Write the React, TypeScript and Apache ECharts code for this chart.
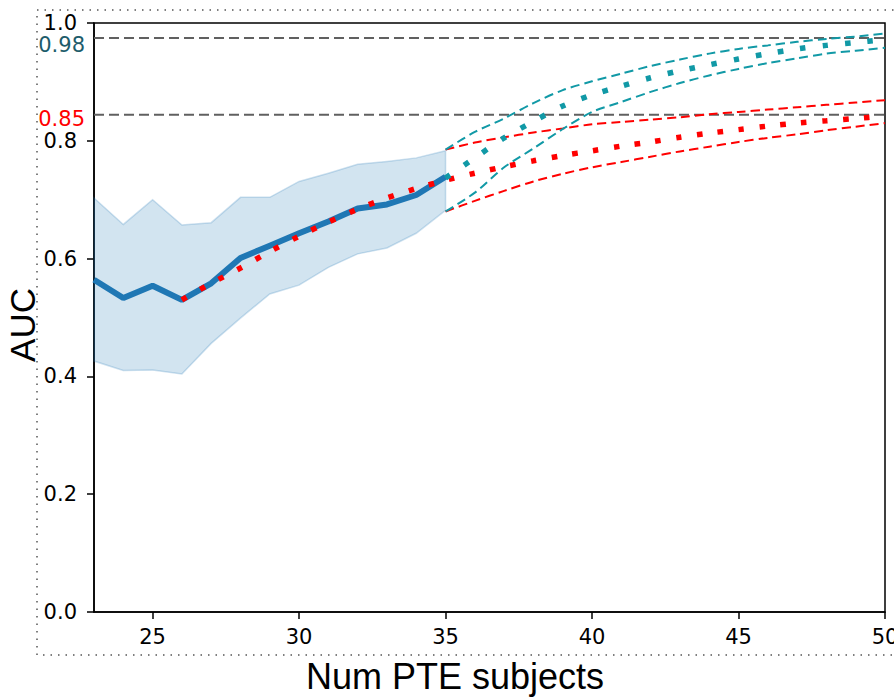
import React, { useEffect, useRef } from "react";
import * as echarts from "echarts";

// ---- data ----
const obsX = [23, 24, 25, 26, 27, 28, 29, 30, 31, 32, 33, 34, 35];
const obsMean = [0.564, 0.533, 0.554, 0.530, 0.558, 0.601, 0.622, 0.643, 0.663, 0.685, 0.692, 0.708, 0.739];
const obsUpper = [0.703, 0.658, 0.700, 0.657, 0.661, 0.704, 0.704, 0.731, 0.745, 0.760, 0.765, 0.771, 0.783];
const obsLower = [0.426, 0.410, 0.411, 0.404, 0.456, 0.499, 0.540, 0.555, 0.585, 0.608, 0.618, 0.643, 0.682];

const redFitX = [26, 27, 28, 29, 30, 31, 32, 33, 34, 35, 36, 37, 38, 39, 40, 41, 42, 43, 44, 45, 46, 47, 48, 49, 50];
const redFit = [0.530, 0.558, 0.584, 0.612, 0.638, 0.662, 0.684, 0.703, 0.719, 0.733, 0.745, 0.756, 0.766, 0.775, 0.783, 0.791, 0.798, 0.806, 0.813, 0.819, 0.825, 0.830, 0.834, 0.838, 0.842];

const projX = [35, 36, 37, 38, 39, 40, 41, 42, 43, 44, 45, 46, 47, 48, 49, 50];
const redUpper = [0.785, 0.797, 0.806, 0.814, 0.821, 0.828, 0.832, 0.836, 0.840, 0.845, 0.849, 0.853, 0.857, 0.861, 0.865, 0.869];
const redLower = [0.680, 0.698, 0.715, 0.731, 0.744, 0.755, 0.764, 0.773, 0.782, 0.790, 0.798, 0.805, 0.811, 0.818, 0.824, 0.830];
const tealMean = [0.737, 0.771, 0.805, 0.833, 0.859, 0.878, 0.893, 0.907, 0.919, 0.929, 0.939, 0.948, 0.956, 0.962, 0.967, 0.972];
const tealUpper = [0.785, 0.815, 0.838, 0.864, 0.886, 0.901, 0.914, 0.927, 0.938, 0.948, 0.956, 0.962, 0.968, 0.973, 0.977, 0.982];
const tealLower = [0.680, 0.712, 0.755, 0.787, 0.820, 0.849, 0.866, 0.883, 0.898, 0.911, 0.922, 0.932, 0.940, 0.948, 0.953, 0.958];

const refLines = [0.9745, 0.8442];
const refLabels = ["0.98", "0.85"];
const refLabelValues = [0.98, 0.85];
const refColors = ["#1d5c6b", "#ff0000"];

const xTicks = [25, 30, 35, 40, 45, 50];

const BLUE = "#1f77b4";
const RED = "#ff0000";
const TEAL = "#1199a6";

const zip = (xs: number[], ys: number[]) => xs.map((x, i) => [x, ys[i]]);

export default function App() {
  const ref = useRef<HTMLDivElement>(null);
  useEffect(() => {
    document.body.style.margin = "0";
    const chart = echarts.init(ref.current!, null, { renderer: "svg" });
    const XMIN = 23, XMAX = 50;
    const option: any = {
      animation: false,
      backgroundColor: "#fff",
      grid: {
        left: 94, top: 23, right: 9, bottom: 88, containLabel: false, outerBoundsMode: "none",
        show: true, borderColor: "#000", borderWidth: 1.5, backgroundColor: "transparent",
      },
      xAxis: {
        type: "value", min: XMIN, max: XMAX,
        name: "Num PTE subjects", nameLocation: "middle", nameGap: 46, nameMoveOverlap: false,
        nameTextStyle: { fontFamily: "Liberation Sans", fontSize: 36, color: "#000", padding: [0, 69, 0, 0] },
        axisLine: { show: true, lineStyle: { color: "#000", width: 1.5 } },
        axisTick: { show: true, length: 7, lineStyle: { color: "#000", width: 1.5 }, customValues: xTicks },
        axisLabel: { margin: 14, fontFamily: "DejaVu Sans", fontSize: 21, color: "#000", customValues: xTicks },
        splitLine: { show: false },
      },
      yAxis: {
        type: "value", min: 0, max: 1, interval: 0.2,
        name: "AUC", nameLocation: "middle", nameGap: 54, nameMoveOverlap: false,
        nameTextStyle: { fontFamily: "Liberation Sans", fontSize: 35, color: "#000", padding: [0, 15, 0, 0] },
        axisLine: { show: true, lineStyle: { color: "#000", width: 1.5 } },
        axisTick: { show: true, length: 7, lineStyle: { color: "#000", width: 1.5 } },
        axisLabel: { margin: 17, fontFamily: "DejaVu Sans", fontSize: 21, lineHeight: 19, color: "#000", formatter: (v: number) => v.toFixed(1) },
        splitLine: { show: false },
      },
      series: [
        {
          type: "custom", name: "band", z: 1,
          data: obsX.map((x, i) => [x, obsLower[i], obsUpper[i]]),
          encode: { x: 0, y: [1, 2] },
          renderItem: (params: any, api: any) => {
            if (params.dataIndex !== 0) return null;
            const pts: number[][] = [];
            obsX.forEach((x, i) => pts.push(api.coord([x, obsUpper[i]])));
            for (let i = obsX.length - 1; i >= 0; i--) pts.push(api.coord([obsX[i], obsLower[i]]));
            return {
              type: "polygon",
              shape: { points: pts },
              style: { fill: "rgba(31,119,180,0.2)", stroke: "rgba(31,119,180,0.22)", lineWidth: 1.5 },
            };
          },
        },
        {
          type: "line", name: "mean", data: zip(obsX, obsMean), symbol: "none",
          lineStyle: { color: BLUE, width: 6 }, z: 3,
        },
        ...refLines.map((v, i) => ({
          type: "line", name: "ref" + i, data: [[XMIN, v], [XMAX, v]], symbol: "none",
          lineStyle: { color: "#606060", width: 2, type: [10, 5] }, z: 2,
        })),
        {
          type: "line", name: "redUpper", data: zip(projX, redUpper), symbol: "none", smooth: 0.3,
          lineStyle: { color: RED, width: 2, type: [9, 5] }, z: 4,
        },
        {
          type: "line", name: "redLower", data: zip(projX, redLower), symbol: "none", smooth: 0.3,
          lineStyle: { color: RED, width: 2, type: [9, 5] }, z: 4,
        },
        {
          type: "line", name: "tealUpper", data: zip(projX, tealUpper), symbol: "none", smooth: 0.3,
          lineStyle: { color: TEAL, width: 2, type: [9, 5] }, z: 4,
        },
        {
          type: "line", name: "tealLower", data: zip(projX, tealLower), symbol: "none", smooth: 0.3,
          lineStyle: { color: TEAL, width: 2, type: [9, 5] }, z: 4,
        },
        {
          type: "line", name: "redFit", data: zip(redFitX, redFit), symbol: "none", smooth: 0.3,
          lineStyle: { color: RED, width: 5.5, type: [5.5, 15.5] }, z: 5,
        },
        {
          type: "line", name: "tealMean", data: zip(projX, tealMean), symbol: "none", smooth: 0.3,
          lineStyle: { color: TEAL, width: 5.5, type: [5.5, 17] }, z: 5,
        },
      ],
    };
    chart.setOption(option);

    const graphics: any[] = [
      {
        type: "rect", shape: { x: 37, y: 10, width: 900, height: 645 },
        style: { fill: "none", stroke: "#555", lineWidth: 1.5, lineDash: [1.5, 6] }, silent: true, z: 0,
      },
    ];
    refLabelValues.forEach((v, i) => {
      const p = chart.convertToPixel({ gridIndex: 0 }, [XMIN, v]) as number[];
      graphics.push({
        type: "text", x: p[0] - 9, y: p[1] + (i === 0 ? 1 : -1.5),
        style: {
          text: refLabels[i], fill: refColors[i], font: "21px 'DejaVu Sans'", lineHeight: 18,
          align: "right", verticalAlign: "top",
        },
        z: 10,
      });
    });
    chart.setOption({ graphic: graphics });
    return () => chart.dispose();
  }, []);
  return <div ref={ref} style={{ width: 894, height: 700 }} />;
}
